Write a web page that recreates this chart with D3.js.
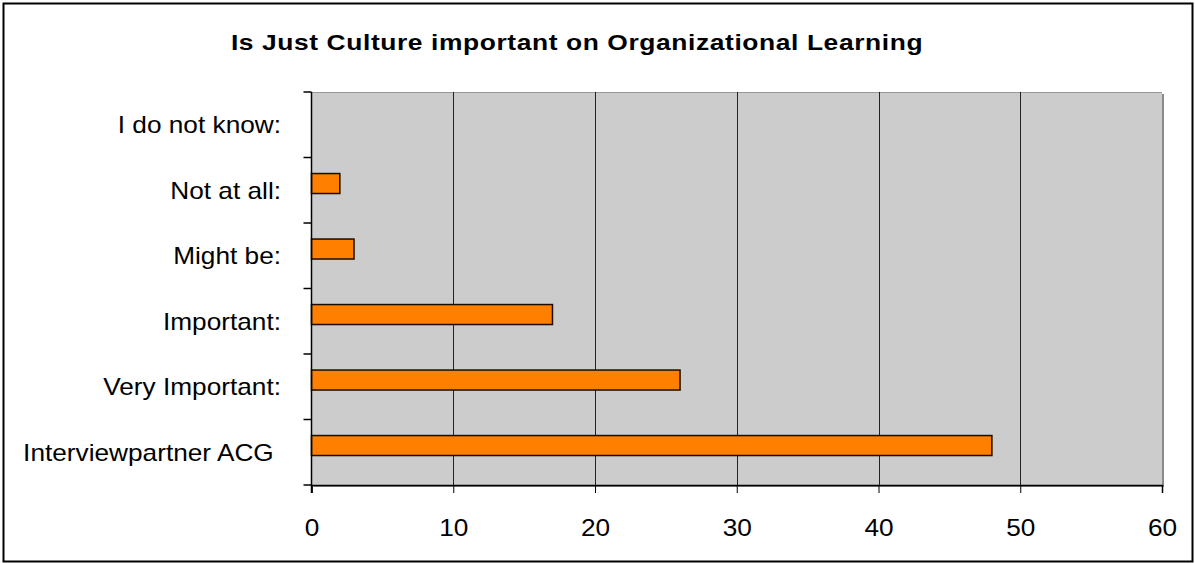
<!DOCTYPE html>
<html>
<head>
<meta charset="utf-8">
<script src="https://cdn.jsdelivr.net/npm/d3@7"></script>
<style>
  html, body { margin: 0; padding: 0; background: #fff; }
  svg { display: block; }
  text { font-family: "Liberation Sans", Arial, sans-serif; fill: #000; white-space: pre; }
</style>
</head>
<body>
<svg id="chart" width="1195" height="563"></svg>
<script>
// Survey answers, top to bottom as drawn
const categories = ["I do not know:", "Not at all:", "Might be:", "Important:", "Very Important:", "Interviewpartner ACG "];
const counts = [0, 2, 3, 17, 26, 48];
const xTicks = [0, 10, 20, 30, 40, 50, 60];
const title = "Is Just Culture important on Organizational Learning";

const svg = d3.select("#chart");
const plot = { left: 311.5, right: 1162, top: 92, bottom: 485 };
const stretch = 1.14; // horizontal text stretch
const fs = 23;

// Outer frame
svg.append("rect")
  .attr("x", 3.5).attr("y", 3.5).attr("width", 1189).attr("height", 558)
  .attr("fill", "#fff").attr("stroke", "#000").attr("stroke-width", 2);

const x = d3.scaleLinear().domain([0, 60]).range([plot.left, plot.right]);
const y = d3.scaleBand().domain(categories).range([plot.top, plot.bottom]);

// Plot background with a soft shadow on the right and bottom edges
svg.append("rect")
  .attr("x", plot.left + 2).attr("y", plot.top + 2)
  .attr("width", plot.right - plot.left).attr("height", plot.bottom - plot.top)
  .attr("fill", "#8a8a8a");
svg.append("rect")
  .attr("x", plot.left).attr("y", plot.top)
  .attr("width", plot.right - plot.left).attr("height", plot.bottom - plot.top)
  .attr("fill", "#cccccc");
svg.append("line")
  .attr("x1", plot.left).attr("x2", plot.right)
  .attr("y1", plot.top + 0.5).attr("y2", plot.top + 0.5)
  .attr("stroke", "#999").attr("stroke-width", 1);

// Vertical gridlines
svg.append("g").selectAll("line")
  .data(xTicks.filter(d => d > 0 && d < 60))
  .join("line")
  .attr("x1", d => Math.round(x(d)) + 0.5).attr("x2", d => Math.round(x(d)) + 0.5)
  .attr("y1", plot.top).attr("y2", plot.bottom)
  .attr("stroke", "#222").attr("stroke-width", 1);

// Bars
svg.append("g").selectAll("rect")
  .data(categories.map((c, i) => ({ c, v: counts[i] })).filter(d => d.v > 0))
  .join("rect")
  .attr("x", x(0))
  .attr("y", d => y(d.c) + y.bandwidth() * 0.245)
  .attr("width", d => x(d.v) - x(0))
  .attr("height", y.bandwidth() * 0.305)
  .attr("fill", "#ff8000")
  .attr("stroke", "#1a0d00").attr("stroke-width", 1.5);

// Bottom axis
const xAxis = d3.axisBottom(x).tickValues(xTicks).tickSize(8).tickPadding(0).tickFormat(d3.format("d"));
const gx = svg.append("g").attr("transform", `translate(0,${plot.bottom})`).call(xAxis);
gx.select(".domain").attr("stroke", "#000").attr("stroke-width", 1.5);
gx.selectAll(".tick line").attr("stroke", "#000");
gx.selectAll(".tick text").remove();
gx.selectAll(".tick").append("text")
  .attr("transform", `translate(0,51) scale(${stretch},1)`)
  .attr("text-anchor", "middle")
  .attr("font-size", fs)
  .text(d => d);

// Left axis with ticks between categories
const gy = svg.append("g");
gy.append("line")
  .attr("x1", plot.left).attr("x2", plot.left)
  .attr("y1", plot.top).attr("y2", plot.bottom + 8)
  .attr("stroke", "#000").attr("stroke-width", 1.5);
const bounds = categories.map(c => y(c)).concat([plot.bottom]);
gy.selectAll("line.tk").data(bounds).join("line").attr("class", "tk")
  .attr("x1", plot.left - 8).attr("x2", plot.left)
  .attr("y1", d => d).attr("y2", d => d)
  .attr("stroke", "#000").attr("stroke-width", 1.5);
gy.selectAll("text").data(categories).join("text")
  .attr("transform", d => `translate(281,${y(d) + y.bandwidth() / 2 + fs * 0.36}) scale(${stretch},1)`)
  .attr("text-anchor", "end")
  .attr("font-size", fs)
  .text(d => d);

// Title
svg.append("text")
  .attr("transform", `translate(577,50) scale(1.2,1)`)
  .attr("text-anchor", "middle")
  .attr("font-size", 22)
  .attr("font-weight", "bold")
  .attr("letter-spacing", 0.5)
  .text(title);
</script>
</body>
</html>
